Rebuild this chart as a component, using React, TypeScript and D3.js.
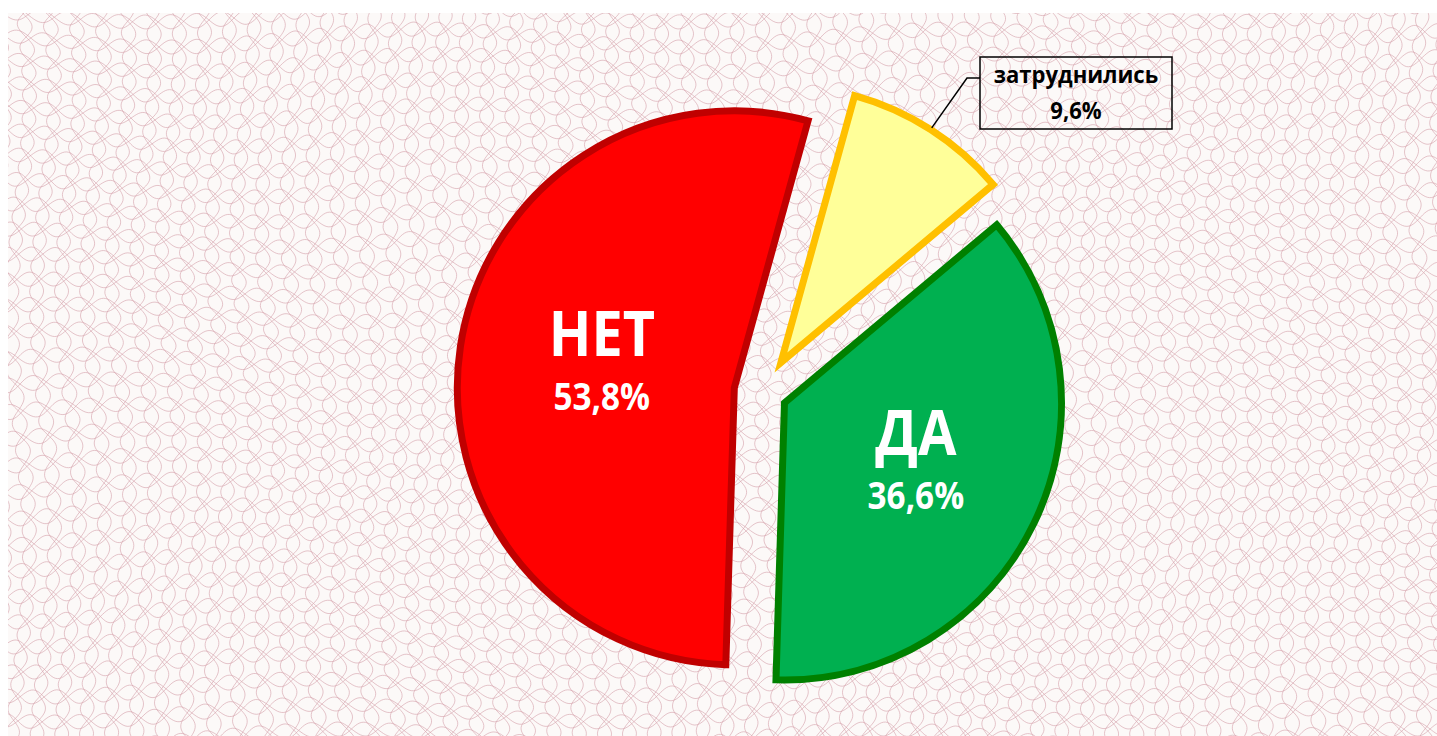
import { useMemo } from "react";
import * as d3 from "d3";

// values
const categories = ["ДА", "НЕТ", "затруднились"];
const shares = [36.6, 53.8, 9.6];

// per-slice look (kept apart from the data)
const fills = ["#00b050", "#ff0000", "#ffff99"];
const strokes = ["#008000", "#c00000", "#ffc000"];
const explodeBy = [25, 28, 35];
const labelR = [146, 134];

const W = 1437;
const H = 736;
const cx = 762;
const cy = 392;
const R = 277;
const startDeg = 50;
const FONT = "'Open Sans', 'Noto Sans', sans-serif";

const fmtPct = (v: number) => d3.format(".1f")(v).replace(".", ",") + "%";

// background guilloche (decoration only)
const CELL = 50;
const AMP = 7;
const BG = { x: 8, y: 13, w: W - 8, h: H - 13 };

function warp(x: number, y: number): [number, number] {
  return [
    x + 9 * Math.sin(y / 70 + x / 160),
    y + 9 * Math.sin(x / 85 - y / 130),
  ];
}

function guilloche(): string[] {
  const line = d3.line<[number, number]>();
  const out: string[] = [];
  const xs = d3.range(BG.x - 30, W + 30, 2);
  const ys = d3.range(BG.y - 30, H + 30, 2);
  d3.range(BG.y - CELL, H + CELL, CELL / 2).forEach((o) => {
    [0, Math.PI].forEach((ph) => {
      const pts = xs.map((t) => warp(t, o + AMP * Math.sin((2 * Math.PI * t) / CELL + ph)));
      out.push(line(pts) as string);
    });
  });
  d3.range(BG.x - CELL, W + CELL, CELL / 2).forEach((o) => {
    [0, Math.PI].forEach((ph) => {
      const pts = ys.map((t) =>
        warp(o + CELL / 4 + AMP * Math.sin((2 * Math.PI * (t + CELL / 4)) / CELL + ph), t)
      );
      out.push(line(pts) as string);
    });
  });
  return out;
}

export default function App() {
  const arcs = useMemo(() => {
    const a0 = (startDeg * Math.PI) / 180;
    return d3
      .pie<number>()
      .sort(null)
      .startAngle(a0)
      .endAngle(a0 + 2 * Math.PI)(shares);
  }, []);

  const arc = d3.arc<d3.PieArcDatum<number>>().innerRadius(0).outerRadius(R);
  const edgeArc = d3.arc<d3.PieArcDatum<number>>().innerRadius(R + 2).outerRadius(R + 2);

  const offset = (d: d3.PieArcDatum<number>, i: number): [number, number] => {
    const mid = (d.startAngle + d.endAngle) / 2;
    return [explodeBy[i] * Math.sin(mid), -explodeBy[i] * Math.cos(mid)];
  };

  const bgPaths = useMemo(guilloche, []);

  // outside label for the small slice
  const small = arcs[2];
  const [sox, soy] = offset(small, 2);
  const [ex, ey] = edgeArc.centroid(small);
  const leadStart: [number, number] = [cx + sox + ex, cy + soy + ey];
  const box = { x: 980, y: 57, w: 192, h: 72 };
  const leader = d3.line()([leadStart, [967, 78], [box.x, 78]]) as string;

  return (
    <svg
      width={W}
      height={H}
      style={{ position: "absolute", left: 0, top: 0 }}
      fontFamily={FONT}
    >
      <defs>
        <clipPath id="bgclip">
          <rect x={BG.x} y={BG.y} width={BG.w} height={BG.h} />
        </clipPath>
      </defs>
      <rect x={BG.x} y={BG.y} width={BG.w} height={BG.h} fill="#fcf9f8" />
      <g clipPath="url(#bgclip)" fill="none" stroke="#d6a2ac" strokeOpacity={0.7} strokeWidth={0.9}>
        {bgPaths.map((p, i) => (
          <path key={i} d={p} />
        ))}
      </g>

      {arcs.map((d, i) => {
        const [ox, oy] = offset(d, i);
        return (
          <path
            key={categories[i]}
            d={arc(d) as string}
            transform={`translate(${cx + ox},${cy + oy})`}
            fill={fills[i]}
            stroke={strokes[i]}
            strokeWidth={7}
            strokeLinejoin="miter"
          />
        );
      })}

      {arcs.slice(0, 2).map((d, i) => {
        const [ox, oy] = offset(d, i);
        const [lx, ly] = d3
          .arc<d3.PieArcDatum<number>>()
          .innerRadius(labelR[i])
          .outerRadius(labelR[i])
          .centroid(d);
        const x = cx + ox + lx;
        const y = cy + oy + ly;
        return (
          <g key={categories[i]} fill="#ffffff" fontWeight={700} textAnchor="middle">
            <text transform={`translate(${x},${y - 12}) scale(0.9,1)`} fontSize={62}>
              {categories[i]}
            </text>
            <text transform={`translate(${x},${y + 42}) scale(0.9,1)`} fontSize={37}>
              {fmtPct(shares[i])}
            </text>
          </g>
        );
      })}

      <path d={leader} fill="none" stroke="#000" strokeWidth={1.5} />
      <rect x={box.x} y={box.y} width={box.w} height={box.h} fill="none" stroke="#000" strokeWidth={1.5} />
      <g fill="#000" fontWeight={700} textAnchor="middle">
        <text transform={`translate(${box.x + box.w / 2},83) scale(0.92,1)`} fontSize={24}>
          {categories[2]}
        </text>
        <text transform={`translate(${box.x + box.w / 2},119) scale(0.92,1)`} fontSize={24}>
          {fmtPct(shares[2])}
        </text>
      </g>
    </svg>
  );
}
